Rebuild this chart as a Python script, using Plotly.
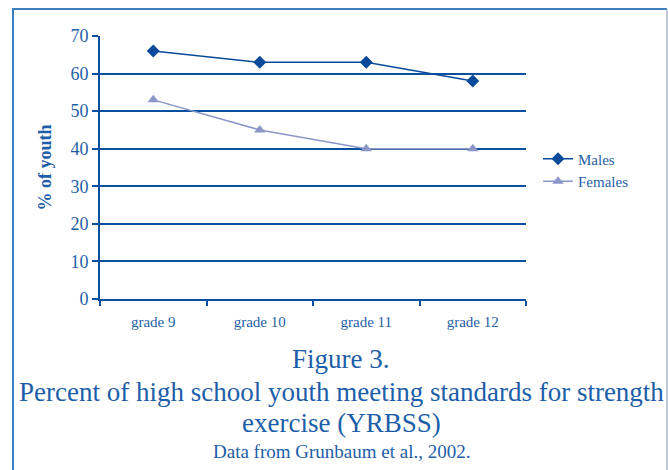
import plotly.graph_objects as go

grades = ["grade 9", "grade 10", "grade 11", "grade 12"]
males = [66, 63, 63, 58]
females = [53, 45, 40, 40]
y_ticks = [0, 10, 20, 30, 40, 50, 60, 70]

W, H = 668, 470
L, R, T, B = 100, 526, 36, 299
pw, ph = R - L, B - T

def px(x):
    return (x - L) / pw

def py(y):
    return (B - y) / ph

txt = "#1f5fa8"
grid = "#0a50a0"
serif = "Liberation Serif"

fig = go.Figure()
fig.add_trace(go.Scatter(x=grades, y=males, name="Males", mode="lines+markers",
                         line=dict(color="#0a4a9a", width=1.5),
                         marker=dict(symbol="diamond", size=10, color="#0a4a9a")))
fig.add_trace(go.Scatter(x=grades, y=females, name="Females", mode="lines+markers",
                         line=dict(color="#8c96c8", width=1.5),
                         marker=dict(symbol="triangle-up", size=10, color="#8c96c8")))

fig.update_layout(
    width=W, height=H,
    margin=dict(l=L, r=W - R, t=T, b=H - B, pad=0),
    paper_bgcolor="white", plot_bgcolor="white",
    font=dict(family=serif, color=txt),
    showlegend=True,
    legend=dict(x=px(538), y=py(170), xanchor="left", yanchor="middle",
                font=dict(size=15, color=txt, family=serif),
                bgcolor="rgba(0,0,0,0)", itemwidth=30, tracegroupgap=4),
    xaxis=dict(range=[-0.5, 3.5], showgrid=False, showline=True, linecolor=grid, linewidth=2,
               ticks="outside", tickson="boundaries", ticklen=5, tickcolor=grid, tickwidth=2,
               ticklabelstandoff=8,
               tickfont=dict(size=15, color=txt, family=serif), fixedrange=True),
    yaxis=dict(range=[0, 70], tickvals=y_ticks, showgrid=True, gridcolor=grid, gridwidth=1.5,
               showline=True, linecolor=grid, linewidth=2, ticks="outside", ticklen=6,
               tickcolor=grid, tickwidth=2, zeroline=False,
               tickfont=dict(size=18, color=txt, family=serif),
               title=dict(text="<b>% of youth</b>", font=dict(size=18, color=txt, family=serif), standoff=14)),
)

# border
bc = "#3c7fc0"
fig.add_shape(type="line", xref="paper", yref="paper", x0=px(13), x1=px(13), y0=py(470), y1=py(8),
              line=dict(color=bc, width=2))
fig.add_shape(type="line", xref="paper", yref="paper", x0=px(12), x1=px(667), y0=py(9), y1=py(9),
              line=dict(color=bc, width=2))
fig.add_shape(type="line", xref="paper", yref="paper", x0=px(667), x1=px(667), y0=py(470), y1=py(9),
              line=dict(color="#a8b8cc", width=1.5))

caps = [("Figure 3.", 359, 27),
        ("Percent of high school youth meeting standards for strength", 392, 27),
        ("exercise (YRBSS)", 423, 27),
        ("Data from Grunbaum et al., 2002.", 451, 19)]
for t, y, s in caps:
    fig.add_annotation(text=t, xref="paper", yref="paper", x=px(341), y=py(y),
                       xanchor="center", yanchor="middle", showarrow=False,
                       font=dict(size=s, color="#1c5ea8", family=serif))

fig.write_html("out.html", config={"displayModeBar": False},
               post_script="document.body.style.margin='0';document.body.style.padding='0';")
